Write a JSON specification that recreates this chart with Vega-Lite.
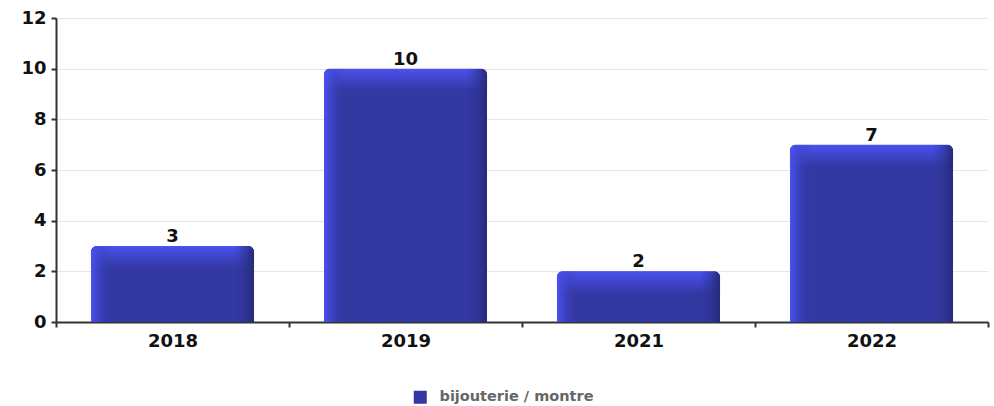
{
  "$schema": "https://vega.github.io/schema/vega-lite/v6.json",
  "width": 932,
  "height": 304,
  "autosize": {"type": "none"},
  "padding": {"left": 56, "top": 18, "right": 6, "bottom": 84},
  "background": "white",
  "data": {
    "values": [
      {"year": "2018", "count": 3, "series": "bijouterie / montre"},
      {"year": "2019", "count": 10, "series": "bijouterie / montre"},
      {"year": "2021", "count": 2, "series": "bijouterie / montre"},
      {"year": "2022", "count": 7, "series": "bijouterie / montre"}
    ]
  },
  "config": {
    "view": {"stroke": null},
    "axis": {
      "labelFont": "DejaVu Sans",
      "labelFontWeight": "bold",
      "labelFontSize": 18,
      "labelColor": "#111111",
      "domainColor": "#333333",
      "domainWidth": 2,
      "tickColor": "#333333",
      "tickWidth": 2,
      "tickSize": 5,
      "title": null
    }
  },
  "encoding": {
    "x": {
      "field": "year",
      "type": "nominal",
      "sort": null,
      "scale": {"paddingInner": 0, "paddingOuter": 0},
      "axis": {"labelAngle": 0, "tickBand": "extent", "labelPadding": 5, "grid": false}
    },
    "y": {
      "field": "count",
      "type": "quantitative",
      "scale": {"domain": [0, 12], "nice": false},
      "axis": {"values": [0, 2, 4, 6, 8, 10, 12], "grid": true, "gridColor": "#e6e6e6", "gridWidth": 1, "labelPadding": 5}
    }
  },
  "layer": [
    {
      "mark": {"type": "bar", "width": {"band": 0.7}, "cornerRadiusTopLeft": 6, "cornerRadiusTopRight": 6},
      "encoding": {
        "color": {
          "field": "series",
          "type": "nominal",
          "scale": {"range": ["#3338A2"]},
          "legend": {
            "title": null,
            "orient": "none",
            "legendX": 357,
            "legendY": 372,
            "symbolType": "square",
            "symbolSize": 170,
            "symbolStrokeWidth": 0,
            "labelFont": "DejaVu Sans",
            "labelFontWeight": "bold",
            "labelFontSize": 14.5,
            "labelColor": "#666666",
            "labelOffset": 12
          }
        }
      }
    },
    {
      "mark": {
        "type": "bar",
        "width": {"band": 0.7},
        "cornerRadiusTopLeft": 6,
        "cornerRadiusTopRight": 6,
        "y2Offset": 22,
        "color": {
          "gradient": "linear",
          "x1": 0, "y1": 0, "x2": 0, "y2": 1,
          "stops": [
            {"offset": 0, "color": "#4A52F0"},
            {"offset": 1, "color": "#3338A2"}
          ]
        }
      },
      "encoding": {"y2": {"field": "count"}}
    },
    {
      "mark": {
        "type": "bar",
        "width": {"band": 0.7},
        "cornerRadiusTopLeft": 6,
        "cornerRadiusTopRight": 6,
        "color": {
          "gradient": "linear",
          "x1": 0, "y1": 0, "x2": 1, "y2": 0,
          "stops": [
            {"offset": 0, "color": "#4A52F2"},
            {"offset": 0.13, "color": "rgba(51,56,162,0)"},
            {"offset": 0.87, "color": "rgba(51,56,162,0)"},
            {"offset": 1, "color": "#252A78"}
          ]
        }
      }
    },
    {
      "mark": {
        "type": "text",
        "font": "DejaVu Sans",
        "fontWeight": "bold",
        "fontSize": 18,
        "color": "#111111",
        "baseline": "alphabetic",
        "dy": -4
      },
      "encoding": {"text": {"field": "count", "type": "quantitative"}}
    }
  ]
}
